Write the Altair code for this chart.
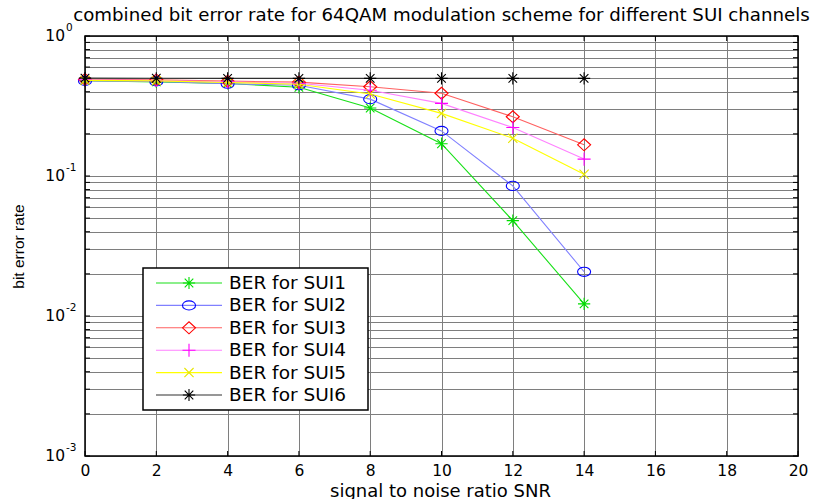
import altair as alt
import pandas as pd

# ---- data -------------------------------------------------------------
snr_db = [0, 2, 4, 6, 8, 10, 12, 14]
ber_sui1 = [0.480, 0.470, 0.458, 0.430, 0.306, 0.170, 0.048, 0.0122]
ber_sui2 = [0.478, 0.474, 0.456, 0.445, 0.354, 0.210, 0.085, 0.0207]
ber_sui3 = [0.490, 0.486, 0.476, 0.468, 0.434, 0.390, 0.265, 0.167]
ber_sui4 = [0.486, 0.481, 0.470, 0.460, 0.410, 0.330, 0.222, 0.132]
ber_sui5 = [0.482, 0.478, 0.466, 0.452, 0.385, 0.280, 0.186, 0.103]
ber_sui6 = [0.500, 0.499, 0.498, 0.498, 0.498, 0.498, 0.498, 0.498]
series_labels = ["BER for SUI1", "BER for SUI2", "BER for SUI3",
                 "BER for SUI4", "BER for SUI5", "BER for SUI6"]

x_ticks = [0, 2, 4, 6, 8, 10, 12, 14, 16, 18, 20]
y_decades = [1, 0.1, 0.01, 0.001]
y_exponents = ["0", "-1", "-2", "-3"]

all_series = [ber_sui1, ber_sui2, ber_sui3, ber_sui4, ber_sui5, ber_sui6]

# ---- styling ----------------------------------------------------------
W, H = 713, 420
FONT = "DejaVu Sans"
GRID = "#7e7e7e"
line_colors = ["#18e018", "#8080ff", "#ff6060", "#ff80ff", "#ffff00", "#303030"]
marker_colors = ["#00dd00", "#0000ff", "#ff0000", "#ff00ff", "#e6e600", "#000000"]
STAR = "M-1,0L1,0M0,-1L0,1M-0.7,-0.7L0.7,0.7M-0.7,0.7L0.7,-0.7"
CIRC = "M-1,0A1,0.7,0,1,0,1,0A1,0.7,0,1,0,-1,0Z"
DIAM = "M-1,0L0,-0.92L1,0L0,0.92Z"
PLUS = "M-1,0L1,0M0,-1L0,1"
CROSS = "M-0.75,-0.75L0.75,0.75M-0.75,0.75L0.75,-0.75"
marker_paths = [STAR, CIRC, DIAM, PLUS, CROSS, STAR]
marker_sizes = [150, 170, 170, 170, 150, 150]

y_grid = [m * 10.0 ** e for e in (-3, -2, -1) for m in range(1, 10)] + [1.0]

xscale = alt.Scale(domain=[0, 20], nice=False, zero=False)
yscale = alt.Scale(type="log", domain=[0.001, 1], nice=False)

x_axis = alt.Axis(
    values=x_ticks, grid=True, gridColor=GRID, gridWidth=1,
    domain=False, ticks=False, labelPadding=7, labelFontSize=15.5,
    labelFont=FONT, labelColor="black", labelFlush=False,
    title="signal to noise ratio SNR", titleFont=FONT, titleFontSize=18,
    titleFontWeight="normal", titleColor="black", titleX=355, titleY=35,
    titleAlign="center", titleBaseline="middle",
)
y_axis = alt.Axis(
    values=y_grid, grid=True, gridColor=GRID, gridWidth=1,
    domain=False, ticks=False, labels=False,
    title="bit error rate", titleFont="Liberation Sans", titleFontSize=15.5,
    titleFontWeight="normal", titleColor="black", titleX=-67, titleY=210,
    titleAlign="center", titleBaseline="middle", titleAngle=270,
)

rows = []
for name, vals in zip(series_labels, all_series):
    for s, b in zip(snr_db, vals):
        rows.append({"series": name, "snr": s, "ber": b})
df = pd.DataFrame(rows)

x_enc = alt.X("snr:Q", scale=xscale, axis=x_axis)
y_enc = alt.Y("ber:Q", scale=yscale, axis=y_axis)

layers = []

# inward tick marks on all four sides
ytick_df = pd.DataFrame({"ber": y_grid})
layers.append(alt.Chart(ytick_df).mark_rule(color="black", strokeWidth=1).encode(
    y=y_enc, x=alt.value(0), x2=alt.value(5)))
layers.append(alt.Chart(ytick_df).mark_rule(color="black", strokeWidth=1).encode(
    y=y_enc, x=alt.value(W - 5), x2=alt.value(W)))
xtick_df = pd.DataFrame({"snr": x_ticks})
layers.append(alt.Chart(xtick_df).mark_rule(color="black", strokeWidth=1).encode(
    x=x_enc, y=alt.value(0), y2=alt.value(5)))
layers.append(alt.Chart(xtick_df).mark_rule(color="black", strokeWidth=1).encode(
    x=x_enc, y=alt.value(H - 5), y2=alt.value(H)))

# BER curves with their markers
for i, name in enumerate(series_labels):
    sub = alt.Chart(df).transform_filter(alt.datum.series == name)
    layers.append(sub.mark_line(color=line_colors[i], strokeWidth=1.1).encode(
        x=x_enc, y=y_enc))
    layers.append(sub.mark_point(
        shape=marker_paths[i], filled=False, color=marker_colors[i],
        size=marker_sizes[i], strokeWidth=1.1, opacity=1,
    ).encode(x=x_enc, y=y_enc))

# y tick labels as 10 with a superscript exponent
ylab_df = pd.DataFrame({"ber": y_decades, "exp": y_exponents})
layers.append(alt.Chart(ylab_df).mark_text(
    text="10", align="right", baseline="middle", font=FONT, fontSize=15.5,
    color="black").encode(y=y_enc, x=alt.value(-20)))
layers.append(alt.Chart(ylab_df).mark_text(
    align="left", baseline="middle", font=FONT, fontSize=10.5, dy=-8,
    color="black").encode(y=y_enc, x=alt.value(-19), text="exp:N"))

# plot frame
one = pd.DataFrame({"k": [0]})
layers.append(alt.Chart(one).mark_rect(
    fillOpacity=0, stroke="black", strokeWidth=1.5).encode(
    x=alt.value(0), x2=alt.value(W), y=alt.value(0), y2=alt.value(H)))

# legend box
LEG_X0, LEG_X1, LEG_Y0, LEG_Y1 = 58, 283, 232, 374
LEG_TOP, LEG_STEP = 247, 22.4
layers.append(alt.Chart(one).mark_rect(
    fill="white", stroke="black", strokeWidth=1.5).encode(
    x=alt.value(LEG_X0), x2=alt.value(LEG_X1),
    y=alt.value(LEG_Y0), y2=alt.value(LEG_Y1)))
for i, name in enumerate(series_labels):
    yy = LEG_TOP + i * LEG_STEP
    layers.append(alt.Chart(one).mark_rule(
        color=line_colors[i], strokeWidth=1.1).encode(
        x=alt.value(71), x2=alt.value(137), y=alt.value(yy)))
    layers.append(alt.Chart(one).mark_point(
        shape=marker_paths[i], filled=False, color=marker_colors[i],
        size=marker_sizes[i], strokeWidth=1.1, opacity=1).encode(
        x=alt.value(104), y=alt.value(yy)))
    layers.append(alt.Chart(one).mark_text(
        text=name, align="left", baseline="middle", font=FONT,
        fontSize=18.5, color="black").encode(
        x=alt.value(144), y=alt.value(yy)))

chart = alt.layer(*layers).properties(
    width=W, height=H,
    title=alt.TitleParams(
        text="combined bit error rate for 64QAM modulation scheme for different SUI channels",
        font=FONT, fontSize=18.2, fontWeight="normal", color="black",
        anchor="middle", offset=6, dy=8),
    autosize=alt.AutoSizeParams(type="none"),
    padding={"left": 85, "top": 36, "right": 21, "bottom": 43},
).configure_view(stroke=None).configure(background="white")

chart.save("out.html", embed_options={"renderer": "svg", "actions": False})
